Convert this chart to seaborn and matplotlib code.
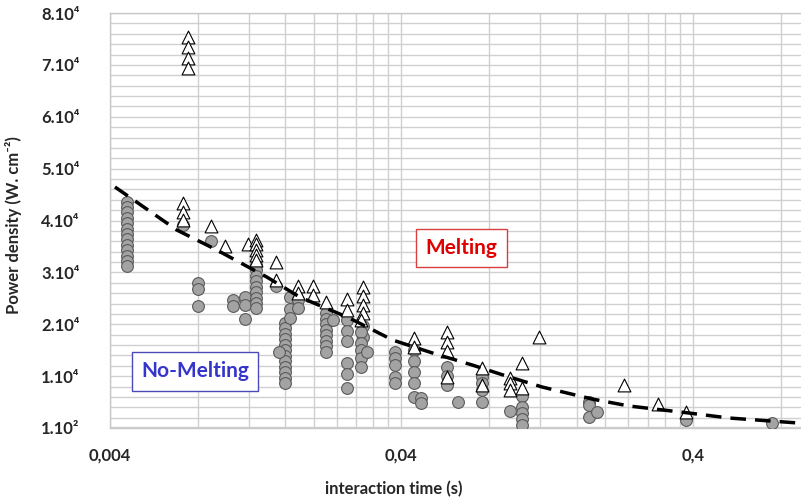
import numpy as np
import pandas as pd
import matplotlib
matplotlib.use('Agg')
import matplotlib.pyplot as plt
from matplotlib.ticker import FixedLocator, NullFormatter
import seaborn as sns

sns.set_style('white')
plt.rcParams['font.family'] = ['Lato', 'DejaVu Sans']

# interaction time columns (s) and power densities (W.cm-2), no-melting points
nomelt_t = [0.00457, 0.00711, 0.00887, 0.00801, 0.01055, 0.01160, 0.01265,
            0.01481, 0.01590, 0.01517, 0.01654, 0.01762, 0.02197, 0.02321,
            0.02592, 0.02964, 0.02895, 0.03036, 0.03816, 0.04431, 0.04684,
            0.05749, 0.06269, 0.07577, 0.09447, 0.10388, 0.1762, 0.1876,
            0.3784, 0.7456]
nomelt_p = [
    [43570, 42600, 41640, 40480, 39520, 38360, 37400, 36430, 35280, 34310, 33160, 32190, 31230],
    [39130],
    [36050],
    [27950, 26800, 23520],
    [24670, 23520],
    [25250, 23710, 21010],
    [31420, 30460, 29300, 28340, 27180, 26220, 25060, 24100, 23130],
    [27370],
    [20240, 19280, 18120, 17160, 16000, 15040, 13880, 12920, 11760, 10800, 9640, 8670],
    [14650],
    [25250, 22940, 21200],
    [24670, 23130],
    [22170, 21010, 20050, 18890, 17930, 16770, 15810, 14650],
    [20820],
    [20820, 18700, 16770, 12530, 10410, 7710],
    [19660, 17540],
    [18510, 16390, 15040, 13490, 11760],
    [14650],
    [14650, 13490, 12140, 9830, 8670],
    [15040, 12920, 10800, 8670, 5980],
    [5780, 4820],
    [11760, 10020, 8290],
    [5010],
    [9830, 8670, 7330, 5010],
    [3280],
    [6170, 4050, 2890, 1730, 580],
    [5010, 4430, 2120],
    [3080],
    [1540],
    [960],
]

# melting points
melt_t = [0.00740, 0.00711, 0.00887, 0.00991, 0.01188, 0.01265, 0.01481,
          0.01762, 0.01983, 0.02197, 0.02592, 0.02964, 0.02895, 0.04431,
          0.05749, 0.07577, 0.09447, 0.10388, 0.1188, 0.2321, 0.3036, 0.3784]
melt_p = [
    [75370, 73450, 71320, 69400],
    [43370, 41640, 40100],
    [38940],
    [35080],
    [35470],
    [36240, 35470, 34310, 33350, 32390],
    [32000, 28530],
    [27370, 26020],
    [27370, 25640],
    [24290],
    [24870, 22750],
    [27180, 25450, 23710, 22170],
    [20820],
    [17350, 15610],
    [18510, 16580, 14840, 9830],
    [11570, 8290],
    [9640, 8670, 7330],
    [12530, 7710],
    [17540],
    [8290],
    [4630],
    [3080],
]

# melting threshold curve
curve_t = [0.00416, 0.00678, 0.0093, 0.0138, 0.0179, 0.0265, 0.0373, 0.0511,
           0.0700, 0.0916, 0.1216, 0.1804, 0.2415, 0.3877, 0.531, 0.922]
curve_p = [46460, 38170, 34310, 29110, 25250, 21200, 16960, 14460,
           12140, 10020, 7900, 5590, 4240, 2890, 1930, 960]

xtick_vals = [0.004, 0.04, 0.4]
xtick_labels = ['0,004', '0,04', '0,4']
ytick_vals = [100, 10000, 20000, 30000, 40000, 50000, 60000, 70000, 80000]
ytick_labels = ['1.10²', '1.10⁴', '2.10⁴', '3.10⁴', '4.10⁴', '5.10⁴', '6.10⁴', '7.10⁴', '8.10⁴']


def expand(ts, ps):
  rows = []
  for t, col in zip(ts, ps):
    for p in col:
      rows.append((t, p))
  return pd.DataFrame(rows, columns=['t', 'p'])


nomelt = expand(nomelt_t, nomelt_p)
melt = expand(melt_t, melt_p)
curve = pd.DataFrame({'t': curve_t, 'p': curve_p})

fig = plt.figure(figsize=(8.01, 5.04), dpi=100)
ax = fig.add_axes([110/801, 1 - 428/504, 691/801, 415/504])

sns.scatterplot(data=nomelt, x='t', y='p', ax=ax, marker='o', s=72,
                color='#a3a3a3', edgecolor='#5a5a5a', linewidth=0.8, zorder=3)
sns.scatterplot(data=melt, x='t', y='p', ax=ax, marker='^', s=85,
                color='white', edgecolor='black', linewidth=0.8, zorder=4)
sns.lineplot(data=curve, x='t', y='p', ax=ax, sort=False, color='black',
             linewidth=2.5, linestyle=(0, (4.5, 2.6)), zorder=5)

ax.set_xscale('log')
ax.set_xlim(0.004, 0.94)
ax.set_ylim(0, 80000)

xgrid = [0.004 * k for k in range(1, 11)] + [0.04 * k for k in range(1, 11)] + [0.4, 0.8]
ax.xaxis.set_major_locator(FixedLocator(xtick_vals))
ax.xaxis.set_minor_locator(FixedLocator(xgrid))
ax.xaxis.set_minor_formatter(NullFormatter())
ax.set_xticks(xtick_vals, xtick_labels)
ax.set_yticks(ytick_vals, ytick_labels)
ax.yaxis.set_minor_locator(FixedLocator(list(range(0, 80001, 2000))))

ax.grid(which='both', color='#d0d0d0', linewidth=1.0)
ax.set_axisbelow(True)
ax.tick_params(which='both', length=0)
ax.tick_params(axis='x', pad=14, labelsize=12)
ax.tick_params(axis='y', pad=22, labelsize=12)
for lab in ax.get_xticklabels() + ax.get_yticklabels():
  lab.set_fontweight('bold')

for side in ['left', 'top', 'bottom']:
  ax.spines[side].set_color('#c8c8c8')
  ax.spines[side].set_linewidth(1.0)
ax.spines['right'].set_visible(False)

ax.set_xlabel('interaction time (s)', fontsize=12, fontweight='bold')
ax.set_ylabel('Power density (W. cm⁻²)', fontsize=12, fontweight='bold')
ax.xaxis.set_label_coords(0.41, -0.128)
ax.yaxis.set_label_coords(-0.127, 0.49)

ax.text(0.509, 0.434, 'Melting', transform=ax.transAxes, ha='center', va='center',
        fontsize=15, fontweight='bold', color='#e00000', zorder=6,
        bbox=dict(boxstyle='square,pad=0.45', facecolor='white', edgecolor='#d84040', linewidth=1))
ax.text(0.123, 0.137, 'No-Melting', transform=ax.transAxes, ha='center', va='center',
        fontsize=15, fontweight='bold', color='#3535cc', zorder=6,
        bbox=dict(boxstyle='square,pad=0.45', facecolor='white', edgecolor='#4a4ab8', linewidth=1))

plt.savefig('out.png', dpi=100)
